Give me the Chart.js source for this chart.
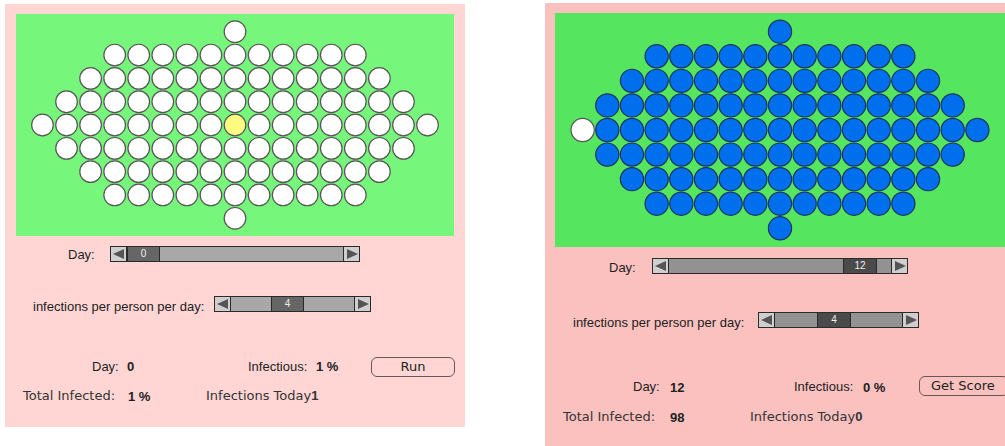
<!DOCTYPE html>
<html lang="en">
<head>
  <meta charset="UTF-8">
  <title>Epidemic Simulation</title>
  <script src="https://cdn.jsdelivr.net/npm/chart.js@4/dist/chart.umd.min.js"></script>
  <style>
    body { margin: 0; width: 1005px; height: 446px; background: #fff; position: relative; overflow: hidden; font-family: "Liberation Sans", Arial, sans-serif; font-size: 13px; color: #222; }
    .panel { position: absolute; }
    .field { position: absolute; }
    .txt { position: absolute; line-height: 16px; white-space: nowrap; }
    .b { font-weight: bold; }
    .lg { font-family: "DejaVu Sans", sans-serif; color: #333; }
    .slider { position: absolute; box-sizing: border-box; border: 1px solid #2a2a2a; height: 16px; }
    .arrow { position: absolute; top: 0; width: 16px; height: 14px; background: #cfcfcf; box-sizing: border-box; }
    .arrow.l { left: 0; border-right: 1px solid #2a2a2a; }
    .arrow.r { right: 0; border-left: 1px solid #2a2a2a; }
    .arrow.l::after { content: ""; position: absolute; left: 2px; top: 2px; border-top: 5px solid transparent; border-bottom: 5px solid transparent; border-right: 11px solid #555; }
    .arrow.r::after { content: ""; position: absolute; left: 3px; top: 2px; border-top: 5px solid transparent; border-bottom: 5px solid transparent; border-left: 11px solid #555; }
    .thumb { position: absolute; top: 0; height: 14px; box-sizing: border-box; border-left: 1px solid #2a2a2a; border-right: 1px solid #2a2a2a; color: #eee; font-size: 10px; line-height: 14px; text-align: center; }
    .btn { position: absolute; box-sizing: border-box; border: 1px solid #6b5656; border-radius: 6px; font-family: "DejaVu Sans", sans-serif; font-size: 13px; line-height: 18px; text-align: center; color: #222; }
  </style>
</head>
<body>
<!-- left panel: day 0 -->
<div class="panel" style="left:5px;top:4px;width:460px;height:423px;background:#ffd6d4;"></div>
<div class="field" style="left:16px;top:14px;width:438px;height:222px;background:#76f77b;"><canvas id="leftChart"></canvas></div>

<div class="txt" style="left:68px;top:247px;">Day:</div>
<div class="slider" style="left:110px;top:246px;width:250px;background:#a8a8a8;">
  <div class="arrow l"></div>
  <div class="thumb" style="left:16px;width:33px;background:#666;">0</div>
  <div class="arrow r"></div>
</div>

<div class="txt" style="left:33px;top:299px;">infections per person per day:</div>
<div class="slider" style="left:214px;top:296px;width:157px;background:#a8a8a8;">
  <div class="arrow l"></div>
  <div class="thumb" style="left:56px;width:33px;background:#666;">4</div>
  <div class="arrow r"></div>
</div>

<div class="txt" style="left:92px;top:359px;">Day:</div>
<div class="txt b" style="left:127px;top:359px;">0</div>
<div class="txt" style="left:248px;top:359px;">Infectious:</div>
<div class="txt b" style="left:316px;top:359px;">1 %</div>
<div class="btn" style="left:371px;top:357px;width:84px;height:20px;">Run</div>
<div class="txt lg" style="left:23px;top:388px;">Total Infected:</div>
<div class="txt b" style="left:128px;top:389px;">1 %</div>
<div class="txt lg" style="left:206px;top:388px;">Infections Today<span class="b" style="font-family:'Liberation Sans',Arial,sans-serif;">1</span></div>

<!-- right panel: day 12 -->
<div class="panel" style="left:545px;top:3px;width:460px;height:443px;background:#fbc1bf;"></div>
<div class="field" style="left:555px;top:13px;width:450px;height:234px;background:#55e55e;"><canvas id="rightChart"></canvas></div>

<div class="txt" style="left:609px;top:260px;">Day:</div>
<div class="slider" style="left:652px;top:258px;width:256px;background:#929292;">
  <div class="arrow l"></div>
  <div class="thumb" style="left:190px;width:34px;background:#4a4a4a;">12</div>
  <div class="arrow r"></div>
</div>

<div class="txt" style="left:573px;top:315px;">infections per person per day:</div>
<div class="slider" style="left:758px;top:312px;width:161px;background:#929292;">
  <div class="arrow l"></div>
  <div class="thumb" style="left:58px;width:34px;background:#4a4a4a;">4</div>
  <div class="arrow r"></div>
</div>

<div class="txt" style="left:633px;top:379px;">Day:</div>
<div class="txt b" style="left:670px;top:380px;">12</div>
<div class="txt" style="left:794px;top:379px;">Infectious:</div>
<div class="txt b" style="left:863px;top:380px;">0 %</div>
<div class="btn" style="left:919px;top:376px;width:90px;height:20px;text-align:left;padding-left:11px;">Get Score</div>
<div class="txt lg" style="left:563px;top:409px;">Total Infected:</div>
<div class="txt b" style="left:670px;top:410px;">98</div>
<div class="txt lg" style="left:750px;top:409px;">Infections Today<span class="b" style="font-family:'Liberation Sans',Arial,sans-serif;">0</span></div>

<script>
  // grid rows, top to bottom: S = susceptible, I = infectious, R = removed
  const leftRows = [
    "S",
    "SSSSSSSSSSS",
    "SSSSSSSSSSSSS",
    "SSSSSSSSSSSSSSS",
    "SSSSSSSSISSSSSSSS",
    "SSSSSSSSSSSSSSS",
    "SSSSSSSSSSSSS",
    "SSSSSSSSSSS",
    "S"
  ];
  const rightRows = [
    "R",
    "RRRRRRRRRRR",
    "RRRRRRRRRRRRR",
    "RRRRRRRRRRRRRRR",
    "SRRRRRRRRRRRRRRRR",
    "RRRRRRRRRRRRRRR",
    "RRRRRRRRRRRRR",
    "RRRRRRRRRRR",
    "R"
  ];
  const fillColors = { S: '#ffffff', I: '#fffa80', R: '#006fee' };

  function cells(rows) {
    const pts = [];
    const mid = (rows.length - 1) / 2;
    rows.forEach((row, r) => {
      for (let c = 0; c < row.length; c++) {
        pts.push({ x: c - (row.length - 1) / 2, y: mid - r, s: row[c] });
      }
    });
    return pts;
  }

  function drawGrid(id, rows, w, h, xr, yr, radius, edge) {
    const canvas = document.getElementById(id);
    canvas.width = w;
    canvas.height = h;
    const pts = cells(rows);
    new Chart(canvas.getContext('2d'), {
      type: 'scatter',
      data: {
        datasets: [{
          data: pts,
          pointRadius: radius,
          pointBorderWidth: 1.2,
          pointBackgroundColor: pts.map(p => fillColors[p.s]),
          pointBorderColor: pts.map(p => p.s === 'R' ? edge : '#555'),
        }]
      },
      options: {
        responsive: false,
        animation: false,
        events: [],
        layout: { padding: 0, autoPadding: false },
        plugins: { legend: { display: false }, tooltip: { enabled: false } },
        scales: {
          x: { type: 'linear', min: -xr, max: xr, display: false },
          y: { type: 'linear', min: -yr, max: yr, display: false }
        }
      }
    });
  }

  drawGrid('leftChart', leftRows, 438, 222, 9.1, 4.76, 10.8, '#555');
  drawGrid('rightChart', rightRows, 450, 234, 9.12, 4.76, 11.6, '#17345c');
</script>
</body>
</html>
